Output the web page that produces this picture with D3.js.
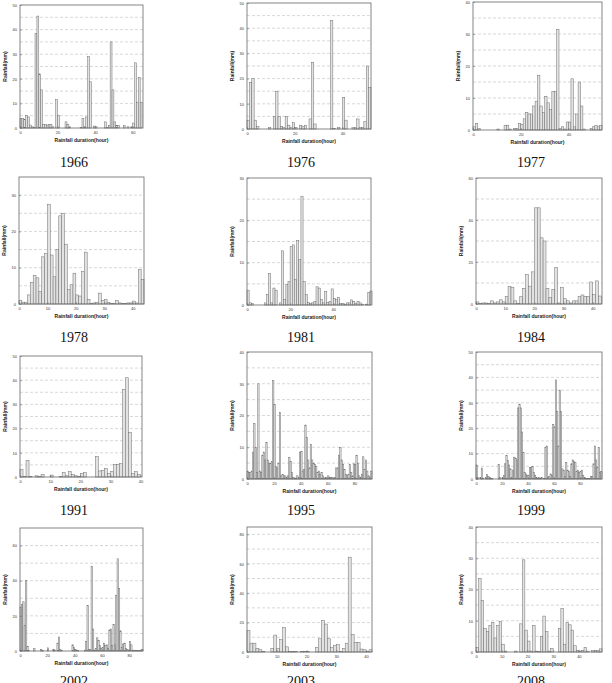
<!DOCTYPE html>
<html>
<head>
<meta charset="utf-8">
<script src="https://cdn.jsdelivr.net/npm/d3@7"></script>
<style>
  body { margin: 0; background: #fff; }
  svg { display: block; }
  .tick-label { font-family: Arial, "Liberation Sans", sans-serif; font-size: 4px; fill: #333; }
  .axis-title { font-family: Arial, "Liberation Sans", sans-serif; font-size: 5px; font-weight: bold; fill: #222; }
  .year { font-family: "Liberation Serif", "DejaVu Serif", serif; font-size: 14px; fill: #111; }
</style>
</head>
<body>
<svg id="chart" width="612" height="683"></svg>
<script>
const years = ['1966', '1976', '1977', '1978', '1981', '1984', '1991', '1995', '1999', '2002', '2003', '2008']

// hourly rainfall (mm), one value per hour
const rain1966 = [3.8, 3.8, 3.5, 5, 4.5, 1.2, 0.5, 0.3, 38.5, 45.5, 22, 15.5, 1.5, 1.5, 1.2, 1.5, 1.5, 0.5, 0, 11.5, 5.2, 0, 0, 0, 2.5, 1.5, 0.5, 0, 0, 0, 0, 0, 0.3, 3.8, 0.5, 4.5, 29, 18.8, 0, 0.8, 0.5, 0, 0, 0, 0, 2.5, 0.3, 1, 35, 15.5, 2.5, 1, 1, 0, 0, 1, 0, 0.5, 0, 0.5, 2, 26.5, 10.5, 20.5, 10.5]
const rain1976 = [3.5, 18.5, 20, 3.5, 1, 0, 0, 0, 0, 0.5, 0, 5, 15, 5, 1, 0.5, 5, 1.5, 0.5, 2.5, 0.5, 0, 1.5, 1, 1.5, 0, 4, 26.5, 2, 0, 0, 0, 0, 0, 0, 43, 0.3, 0, 0.5, 0, 12.5, 3.5, 0, 0, 0.5, 0.5, 4, 0.5, 0.5, 3, 25, 16.5]
const rain1977 = [1, 2, 0.5, 0, 0, 0, 0, 0, 0, 0, 0.3, 0, 0, 1.5, 1.5, 0.3, 0, 0.5, 0.5, 2, 1.8, 3.5, 5.5, 5, 5, 7.5, 9, 17, 7.5, 5.5, 10.5, 8.5, 6.5, 12, 12, 31.5, 0.5, 1, 0.3, 2.5, 2.5, 16, 1, 5, 15, 7.5, 0.3, 0, 0, 0.5, 1, 1.5, 1, 1.5]
const rain1978 = [1, 0.5, 0.5, 2.5, 6, 7.8, 7.2, 3.5, 13, 14, 27.5, 13.5, 7.5, 15, 24.3, 25, 16.5, 4, 5.3, 8.5, 2.5, 2.2, 9, 14.3, 1.3, 0.2, 0.3, 0.5, 3, 1, 1.2, 0.5, 0.2, 0.2, 1, 0.3, 0.2, 0.2, 0.3, 0.3, 0.8, 0.3, 9.5, 6.8]
const rain1981 = [3.5, 0.5, 0.3, 0, 0, 0, 0, 0, 0.5, 2.5, 7.5, 0.5, 4, 3.5, 0, 0.5, 12.8, 1.3, 4.8, 5.5, 13.8, 14.2, 6, 15.2, 10.8, 25.7, 5.5, 2.5, 0.6, 0.3, 0.5, 0.8, 4.3, 4, 1.3, 0.5, 3.2, 0.6, 0.8, 3.8, 1.5, 1.3, 1.8, 0.3, 0.3, 0.2, 0.5, 0.5, 1.2, 0.8, 0.3, 0.8, 0.5, 0.2, 0, 0.2, 3, 3.3]
const rain1984 = [1, 0.2, 0.5, 0.5, 0.3, 1.5, 0.5, 1, 2, 1, 3.5, 8.3, 8, 1.5, 0.2, 3.5, 7.5, 14, 8.5, 15.3, 45.8, 45.8, 31.5, 30, 7.5, 3, 7, 17.5, 0.5, 8, 2.5, 1.5, 0.5, 1.5, 1.5, 3.5, 4.3, 3.5, 3.5, 10.5, 4.5, 11, 3.8]
const rain1991 = [3, 0.3, 6.8, 0.3, 0, 0.5, 0.2, 1, 0, 0, 0.8, 0, 0, 0.3, 1.8, 0.5, 2.2, 1, 0.5, 0.3, 1.5, 1.8, 0, 0, 0, 8.5, 2.5, 2.8, 3.5, 1.5, 2.2, 5.2, 5.2, 5.5, 36.2, 41, 18.5, 1.5, 2.2, 1]
const rain1995 = [2.5, 2, 2, 2.5, 8.5, 17.5, 10, 2, 30, 2.5, 2, 7.5, 8.5, 6, 11.5, 6, 5, 5, 5.5, 31, 23.5, 4, 3.5, 5, 21, 1, 1.5, 1, 1, 0.5, 1, 6.8, 5.5, 2, 0.5, 0.3, 0.3, 1, 0.5, 8.5, 8.7, 2.5, 3, 17, 13, 6, 3.5, 10.8, 6, 5, 4.5, 4, 2, 2.5, 1.5, 2, 1, 0.3, 0.5, 0.3, 1, 0.5, 0.5, 0.5, 0.3, 0.5, 3.5, 3.5, 7.5, 10, 6, 4.5, 3, 1.5, 1, 1.5, 4.5, 2, 1, 4.8, 4.5, 7.5, 5, 1, 0.5, 1.5, 7, 3, 6, 2.5, 1, 0.5, 2.5]
const rain1999 = [5.5, 0.5, 0, 0.5, 4.3, 0.3, 0, 0.5, 1.8, 1, 0.5, 0.3, 0.2, 0, 0, 0, 0, 5.8, 0.5, 0, 0.5, 1.5, 6, 9.3, 7.3, 5.5, 4, 0.5, 3.5, 8.6, 8, 7.5, 28, 29.5, 28, 18.5, 10.5, 2.5, 2, 1.5, 1.5, 4.5, 4.5, 5, 2.5, 1.5, 0.5, 0.3, 0.5, 0.3, 0.5, 0, 0.3, 12.5, 13, 0.5, 1, 2, 1.5, 21.5, 20.5, 39, 26.5, 13, 35, 26.5, 4, 3.5, 1, 6.5, 3.5, 3, 1, 6, 7.5, 7, 6.5, 3, 3.5, 2.5, 3, 3.5, 1.5, 0.5, 0.3, 0.3, 0.2, 0.3, 1, 1, 6, 13, 7.5, 4.5, 12.5, 2.5, 3]
const rain2002 = [25, 26.5, 28, 14.5, 40, 2.5, 0.3, 0, 0, 0, 1.3, 0, 0, 0, 0, 0.8, 0.3, 0, 0, 0, 1.8, 0, 0, 0, 0.8, 0.5, 0, 4.5, 8, 1, 0.3, 0, 0, 0, 0, 0, 0, 0, 3.5, 2, 1, 0.5, 0.3, 0, 0, 0, 0, 0.5, 5.5, 26, 1, 1, 48, 12.5, 0.5, 1.5, 7.5, 6, 3, 1.5, 2, 4.5, 3, 3.5, 1.5, 12, 12.5, 3, 15, 3.5, 31.5, 52.5, 35.5, 11.5, 2, 4, 4.5, 1.5, 1, 0.5, 5.5, 3.5, 0.5, 0.2, 0.3, 0.3, 0.3, 0.3, 0.5, 1]
const rain2003 = [14.5, 6, 6, 2.5, 1.5, 0.5, 0, 0, 2.5, 11.5, 2.5, 8.5, 16.5, 3.5, 0.5, 0.5, 0.3, 0, 0.5, 0.3, 0.5, 0, 0, 3, 9, 21.5, 19, 9, 3, 4.5, 5, 0.5, 2.5, 6, 64.5, 12, 6.5, 6.5, 2, 1.5, 0.5, 1.5]
const rain2008 = [1.5, 23.5, 16.5, 7.5, 6.5, 8.5, 9.5, 4.5, 8.5, 9.8, 2.5, 0.3, 0, 0, 0, 0.3, 0, 9, 29.5, 7, 3.5, 0.3, 8.5, 0.3, 0.2, 5, 11.5, 6.5, 0.3, 1.2, 0, 0, 7.5, 14, 2.5, 9.5, 8.7, 7, 2, 0.5, 0.3, 0.5, 1.5, 0.3, 0, 0.5, 0.5, 0.5, 1]

const rainByYear = [rain1966, rain1976, rain1977, rain1978, rain1981, rain1984, rain1991, rain1995, rain1999, rain2002, rain2003, rain2008]

// axis ranges and tick steps per panel
const xMaxes = [65.5, 52, 54, 44, 57.5, 43.2, 40.5, 93, 97, 90, 42, 49]
const xTickSteps = [20, 20, 20, 10, 20, 10, 10, 20, 20, 20, 10, 10]
const yMaxes = [50, 50, 40, 35, 30, 60, 50, 40, 50, 70, 85, 40]
const yTickSteps = [10, 10, 10, 10, 10, 20, 10, 10, 10, 20, 20, 10]
const gridSteps = [5, 5, 5, 5, 5, 10, 5, 5, 5, 10, 10, 5]

// plot boxes: [left, right, top, bottom]
const boxes = [
  [20, 143, 5, 128], [247, 371, 3, 129], [473, 602, 2, 130],
  [19, 144, 177, 304], [247, 371, 178, 305], [476, 602, 178, 304],
  [20, 142, 356, 477], [247, 372, 352, 479], [476, 602, 352, 479],
  [20, 143, 528, 651], [247, 372, 527, 652], [476, 602, 527, 652]
]
const yearX = [74, 301, 531]
const yearY = [167, 342, 515, 686]

const svg = d3.select('#chart')

years.forEach((year, i) => {
  const [left, right, top, bottom] = boxes[i]
  const values = rainByYear[i]
  const x = d3.scaleLinear().domain([0, xMaxes[i]]).range([left, right])
  const y = d3.scaleLinear().domain([0, yMaxes[i]]).range([bottom, top])
  const g = svg.append('g').attr('class', `panel panel-${year}`)

  // dashed grid
  const gridValues = d3.range(gridSteps[i], yMaxes[i], gridSteps[i])
  g.selectAll('line.grid')
    .data(gridValues)
    .enter()
    .append('line')
    .attr('class', 'grid')
    .attr('x1', left)
    .attr('x2', right)
    .attr('y1', d => y(d))
    .attr('y2', d => y(d))
    .attr('stroke', '#bdbdbd')
    .attr('stroke-width', 0.6)
    .attr('stroke-dasharray', '3,2')

  // bars
  g.selectAll('rect.bar')
    .data(values)
    .enter()
    .append('rect')
    .attr('class', 'bar')
    .attr('x', (d, h) => x(h))
    .attr('width', (d, h) => x(h + 1) - x(h))
    .attr('y', d => y(d))
    .attr('height', d => y(0) - y(d))
    .attr('fill', '#e2e2e2')
    .attr('stroke', '#6e6e6e')
    .attr('stroke-width', 0.5)

  // frame
  g.append('rect')
    .attr('x', left)
    .attr('y', top)
    .attr('width', right - left)
    .attr('height', bottom - top)
    .attr('fill', 'none')
    .attr('stroke', '#666')
    .attr('stroke-width', 0.8)

  const xAxis = d3.axisBottom(x)
    .tickValues(d3.range(0, xMaxes[i] + 0.01, xTickSteps[i]))
    .tickSize(-2)
    .tickPadding(3)
  const yAxis = d3.axisLeft(y)
    .tickValues(d3.range(0, yMaxes[i] + 0.01, yTickSteps[i]))
    .tickSize(-2)
    .tickPadding(3)

  const gx = g.append('g').attr('transform', `translate(0, ${bottom})`).call(xAxis)
  const gy = g.append('g').attr('transform', `translate(${left}, 0)`).call(yAxis)
  ;[gx, gy].forEach(ax => {
    ax.select('.domain').remove()
    ax.selectAll('line').attr('stroke', '#666').attr('stroke-width', 0.5)
    ax.selectAll('text').attr('class', 'tick-label').attr('font-size', null).attr('font-family', null)
  })

  g.append('text')
    .attr('class', 'axis-title')
    .attr('x', (left + right) / 2)
    .attr('y', bottom + 14)
    .attr('text-anchor', 'middle')
    .text('Rainfall duration(hour)')

  g.append('text')
    .attr('class', 'axis-title')
    .attr('transform', `translate(${left - 13}, ${(top + bottom) / 2}) rotate(-90)`)
    .attr('text-anchor', 'middle')
    .text('Rainfall(mm)')

  // year captions; the bottom row is cut by the page edge, as in the original
  g.append('text')
    .attr('class', 'year')
    .attr('x', yearX[i % 3])
    .attr('y', yearY[Math.floor(i / 3)])
    .attr('text-anchor', 'middle')
    .text(year)
})
</script>
</body>
</html>
